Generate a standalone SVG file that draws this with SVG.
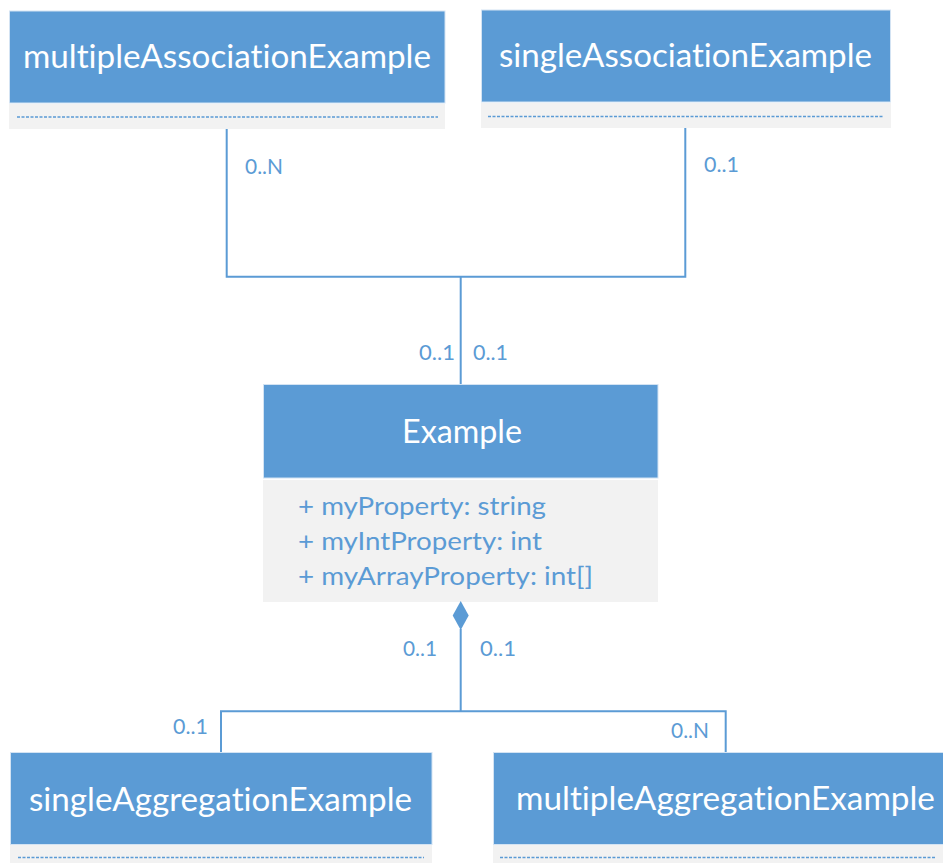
<svg xmlns="http://www.w3.org/2000/svg" width="943" height="863" viewBox="0 0 943 863">
  <style>
    text { font-variant-ligatures: none; font-feature-settings: "liga" 0, "clig" 0, "dlig" 0; }
    .head { fill: #5B9BD5; stroke: #D3E3F3; stroke-width: 1; }
    .body { fill: #F2F2F2; }
    .sep { stroke: #5B9BD5; stroke-width: 1.3; stroke-dasharray: 3 1.5; fill: none; }
    .title { font-family: Lato, "Liberation Sans", sans-serif; font-size: 32px; fill: #FFFFFF; }
    .attr { font-family: Lato, "Liberation Sans", sans-serif; font-size: 25px; fill: #5B9BD5; }
    .mult { font-family: Lato, "Liberation Sans", sans-serif; font-size: 22px; fill: #5B9BD5; }
    .conn { stroke: #5B9BD5; stroke-width: 2; fill: none; }
  </style>

  <rect width="943" height="863" fill="#FFFFFF"/>

  <!-- class: multipleAssociationExample -->
  <g id="multipleAssociationExample">
    <rect class="head" x="9.5" y="11" width="435.5" height="92"/>
    <rect class="body" x="9" y="104" width="436" height="25"/>
    <line class="sep" x1="17" y1="117" x2="438" y2="117"/>
    <text class="title" x="23" y="68" textLength="408" lengthAdjust="spacingAndGlyphs">multipleAssociationExample</text>
  </g>

  <!-- class: singleAssociationExample -->
  <g id="singleAssociationExample">
    <rect class="head" x="481.5" y="10" width="409" height="92"/>
    <rect class="body" x="481" y="103" width="410" height="25"/>
    <line class="sep" x1="488" y1="116.5" x2="883" y2="116.5"/>
    <text class="title" x="499" y="67" textLength="373" lengthAdjust="spacingAndGlyphs">singleAssociationExample</text>
  </g>

  <!-- class: Example -->
  <g id="Example">
    <rect class="head" x="263.5" y="384.5" width="394.5" height="93.5"/>
    <rect class="body" x="263" y="480" width="395" height="122"/>
    <text class="title" x="402" y="443" textLength="120" lengthAdjust="spacingAndGlyphs">Example</text>
    <text class="attr" x="298" y="515" textLength="248" lengthAdjust="spacingAndGlyphs">+ myProperty: string</text>
    <text class="attr" x="298" y="550" textLength="244" lengthAdjust="spacingAndGlyphs">+ myIntProperty: int</text>
    <text class="attr" x="298" y="585" textLength="295" lengthAdjust="spacingAndGlyphs">+ myArrayProperty: int[]</text>
  </g>

  <!-- class: singleAggregationExample -->
  <g id="singleAggregationExample">
    <rect class="head" x="10.5" y="752.5" width="421.5" height="92"/>
    <rect class="body" x="10" y="845" width="422" height="18"/>
    <line class="sep" x1="18" y1="857.5" x2="424" y2="857.5"/>
    <text class="title" x="29" y="811" textLength="383" lengthAdjust="spacingAndGlyphs">singleAggregationExample</text>
  </g>

  <!-- class: multipleAggregationExample -->
  <g id="multipleAggregationExample">
    <rect class="head" x="493.5" y="752.5" width="450" height="92"/>
    <rect class="body" x="493" y="845" width="450" height="18"/>
    <line class="sep" x1="500" y1="857.5" x2="936" y2="857.5"/>
    <text class="title" x="516" y="810" textLength="419" lengthAdjust="spacingAndGlyphs">multipleAggregationExample</text>
  </g>

  <!-- connectors -->
  <g id="connectors">
    <!-- associations to Example -->
    <path class="conn" d="M226.7 129 V276.7 H685.3 V128"/>
    <path class="conn" d="M460.7 276.7 V384"/>
    <!-- composition from Example -->
    <polygon points="460.7,601 468.7,615.5 460.7,630 452.7,615.5" fill="#5B9BD5"/>
    <path class="conn" d="M460.7 629 V711.3"/>
    <path class="conn" d="M221 752 V711.3 H725.7 V752"/>

    <!-- multiplicities -->
    <text class="mult" x="245" y="174" textLength="38" lengthAdjust="spacingAndGlyphs">0..N</text>
    <text class="mult" x="704" y="172" textLength="35" lengthAdjust="spacingAndGlyphs">0..1</text>
    <text class="mult" x="419" y="360" textLength="36" lengthAdjust="spacingAndGlyphs">0..1</text>
    <text class="mult" x="473" y="360" textLength="35" lengthAdjust="spacingAndGlyphs">0..1</text>
    <text class="mult" x="403" y="656" textLength="34" lengthAdjust="spacingAndGlyphs">0..1</text>
    <text class="mult" x="480" y="656" textLength="36" lengthAdjust="spacingAndGlyphs">0..1</text>
    <text class="mult" x="173" y="734" textLength="35" lengthAdjust="spacingAndGlyphs">0..1</text>
    <text class="mult" x="671" y="738" textLength="38" lengthAdjust="spacingAndGlyphs">0..N</text>
  </g>
</svg>
